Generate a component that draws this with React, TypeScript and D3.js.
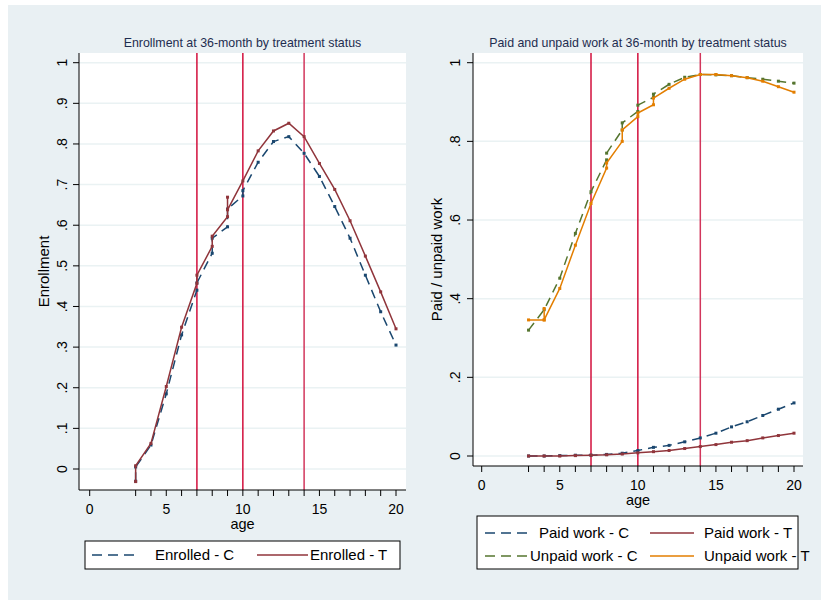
import React from "react";
import * as d3 from "d3";

// enrollment at 36-month, control (C) and treatment (T), by age
const enrolledAgeC = [3, 3, 4, 5, 6, 7, 7, 8, 8, 9, 9, 10, 10, 11, 12, 13, 14, 15, 16, 17, 18, 19, 20];
const enrolledC = [-0.03, 0.005, 0.059, 0.185, 0.33, 0.44, 0.458, 0.531, 0.568, 0.596, 0.64, 0.672, 0.685, 0.755, 0.806, 0.818, 0.777, 0.72, 0.646, 0.568, 0.477, 0.387, 0.305];
const enrolledAgeT = [3, 3, 4, 5, 6, 7, 7, 8, 8, 9, 9, 9, 10, 11, 12, 13, 14, 15, 16, 17, 18, 19, 20];
const enrolledT = [-0.031, 0.008, 0.063, 0.203, 0.349, 0.457, 0.477, 0.548, 0.573, 0.621, 0.669, 0.638, 0.709, 0.783, 0.832, 0.851, 0.818, 0.752, 0.688, 0.611, 0.524, 0.436, 0.345];

// paid / unpaid work
const paidAge = [3, 4, 5, 6, 7, 8, 9, 10, 11, 12, 13, 14, 15, 16, 17, 18, 19, 20];
const paidC = [0, 0, 0.001, 0.002, 0.002, 0.004, 0.007, 0.014, 0.022, 0.027, 0.036, 0.046, 0.058, 0.074, 0.087, 0.103, 0.119, 0.135];
const paidT = [0, 0, 0, 0.001, 0.002, 0.003, 0.005, 0.008, 0.011, 0.014, 0.019, 0.024, 0.029, 0.035, 0.039, 0.046, 0.052, 0.058];
const unpaidAgeC = [3, 4, 5, 6, 7, 8, 8, 9, 9, 10, 10, 11, 11, 12, 13, 14, 15, 16, 17, 18, 19, 20];
const unpaidC = [0.32, 0.372, 0.452, 0.566, 0.672, 0.753, 0.77, 0.829, 0.847, 0.876, 0.892, 0.912, 0.92, 0.945, 0.963, 0.97, 0.969, 0.967, 0.962, 0.958, 0.953, 0.948];
const unpaidAgeT = [3, 4, 4, 4, 5, 6, 7, 8, 8, 9, 9, 10, 10, 11, 11, 12, 13, 14, 15, 16, 17, 18, 19, 20];
const unpaidT = [0.346, 0.346, 0.375, 0.346, 0.426, 0.536, 0.642, 0.732, 0.745, 0.8, 0.829, 0.863, 0.872, 0.893, 0.91, 0.935, 0.958, 0.97, 0.97, 0.967, 0.962, 0.953, 0.939, 0.925];

const cutoffAges = [7, 10, 14];
const xLabels = [0, 5, 10, 15, 20];
const enrollTicks = [0, 0.1, 0.2, 0.3, 0.4, 0.5, 0.6, 0.7, 0.8, 0.9, 1];
const workTicks = [0, 0.2, 0.4, 0.6, 0.8, 1];

const FONT = "'Liberation Sans', Arial, Helvetica, sans-serif";
const NAVY = "#1a476f";
const MAROON = "#90353b";
const GREEN = "#55752f";
const ORANGE = "#e37e00";
const BG = "#e9f0f3";
const GRID = "#eaf2f3";

const fmt = (v) => (v === 0 ? "0" : v === 1 ? "1" : "." + Math.round(v * 10));

function Panel({ title, ytitle, box, xr, yr, yTicks, series, ylabX, ytitleX, xlabY }) {
  const x = d3.scaleLinear().domain([0, 20]).range(xr);
  const y = d3.scaleLinear().domain([0, 1]).range(yr);
  const ageTicks = Array.from(new Set([0, ...paidAge]));
  const line = d3
    .line()
    .x((d) => x(d[0]))
    .y((d) => y(d[1]));
  const cy = (box.y0 + box.y1) / 2;
  return (
    <g fontFamily={FONT}>
      <text x={(box.x0 + box.x1) / 2} y={47} textAnchor="middle" fontSize={12.4} fill="#1e2d50">
        {title}
      </text>
      <rect x={box.x0} y={box.y0} width={box.x1 - box.x0} height={box.y1 - box.y0} fill="#fff" />
      {yTicks.map((t) => (
        <line key={t} x1={box.x0} x2={box.x1} y1={y(t)} y2={y(t)} stroke={GRID} strokeWidth={1.5} />
      ))}
      {cutoffAges.map((a) => (
        <line key={a} x1={x(a)} x2={x(a)} y1={box.y0} y2={box.y1} stroke={a === 14 ? "#d2365c" : "#d20f3c"} strokeWidth={1.5} />
      ))}
      {series.map((s, i) => {
        const pts = s.ages.map((a, j) => [a, s.values[j]]);
        return (
          <g key={i}>
            <path d={line(pts)} fill="none" stroke={s.color} strokeWidth={1.5} strokeDasharray={s.dash ? "9,6" : null} />
            {pts.map((p, j) => (
              <rect key={j} x={x(p[0]) - 1.5} y={y(p[1]) - 1.5} width={3} height={3} fill={s.color} />
            ))}
          </g>
        );
      })}
      {/* axes */}
      <line x1={box.x0} x2={box.x0} y1={box.y0} y2={box.y1} stroke="#000" />
      <line x1={box.x0} x2={box.x1} y1={box.y1} y2={box.y1} stroke="#000" />
      {yTicks.map((t) => (
        <g key={t}>
          <line x1={box.x0 - 6} x2={box.x0} y1={y(t)} y2={y(t)} stroke="#000" />
          <text transform={`translate(${ylabX},${y(t)}) rotate(-90)`} textAnchor="middle" fontSize={14}>
            {fmt(t)}
          </text>
        </g>
      ))}
      {ageTicks.map((a) => (
        <line key={a} x1={x(a)} x2={x(a)} y1={box.y1} y2={box.y1 + 6} stroke="#000" />
      ))}
      {xLabels.map((a) => (
        <text key={a} x={x(a)} y={xlabY} textAnchor="middle" fontSize={14}>
          {a}
        </text>
      ))}
      <text x={(box.x0 + box.x1) / 2} y={xlabY + 15} textAnchor="middle" fontSize={14.5}>
        age
      </text>
      <text transform={`translate(${ytitleX},${cy}) rotate(-90)`} textAnchor="middle" fontSize={15}>
        {ytitle}
      </text>
    </g>
  );
}

function LegendKey({ x1, x2, y, color, dash }) {
  return <line x1={x1} x2={x2} y1={y} y2={y} stroke={color} strokeWidth={1.5} strokeDasharray={dash ? "10,6" : null} />;
}

export default function App() {
  return (
    <svg width={821} height={600} style={{ position: "absolute", left: 0, top: 0 }}>
      <rect width={821} height={600} fill="#fff" />
      <rect x={8} y={5} width={813} height={595} fill={BG} />
      <Panel
        title="Enrollment at 36-month by treatment status"
        ytitle="Enrollment"
        box={{ x0: 79, x1: 406, y0: 53, y1: 490 }}
        xr={[89.7, 396]}
        yr={[469, 62.7]}
        yTicks={enrollTicks}
        ylabX={67}
        ytitleX={49}
        xlabY={514}
        series={[
          { ages: enrolledAgeC, values: enrolledC, color: NAVY, dash: true },
          { ages: enrolledAgeT, values: enrolledT, color: MAROON, dash: false },
        ]}
      />
      <Panel
        title="Paid and unpaid work at 36-month by treatment status"
        ytitle="Paid / unpaid work"
        box={{ x0: 473, x1: 803, y0: 53, y1: 466 }}
        xr={[481.7, 794]}
        yr={[456, 62.7]}
        yTicks={workTicks}
        ylabX={460}
        ytitleX={442}
        xlabY={490}
        series={[
          { ages: paidAge, values: paidC, color: NAVY, dash: true },
          { ages: paidAge, values: paidT, color: MAROON, dash: false },
          { ages: unpaidAgeC, values: unpaidC, color: GREEN, dash: true },
          { ages: unpaidAgeT, values: unpaidT, color: ORANGE, dash: false },
        ]}
      />
      {/* legends */}
      <g fontFamily={FONT} fontSize={15}>
        <rect x={85} y={541} width={315} height={28} fill="#fff" stroke="#000" />
        <LegendKey x1={92} x2={140} y={555} color={NAVY} dash />
        <text x={155} y={560}>Enrolled - C</text>
        <LegendKey x1={257} x2={308} y={555} color={MAROON} />
        <text x={310} y={560}>Enrolled - T</text>

        <rect x={477} y={516} width={321} height={53} fill="#fff" stroke="#000" />
        <LegendKey x1={485} x2={528} y={533} color={NAVY} dash />
        <text x={539} y={538}>Paid work - C</text>
        <LegendKey x1={650} x2={694} y={533} color={MAROON} />
        <text x={704} y={538}>Paid work - T</text>
        <LegendKey x1={485} x2={528} y={556} color={GREEN} dash />
        <text x={530} y={561}>Unpaid work - C</text>
        <LegendKey x1={650} x2={694} y={556} color={ORANGE} />
        <text x={704} y={561}>Unpaid work - T</text>
      </g>
    </svg>
  );
}
